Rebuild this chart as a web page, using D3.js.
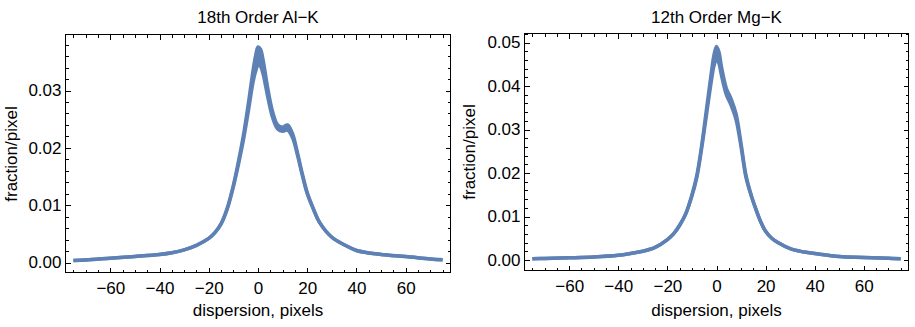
<!DOCTYPE html>
<meta charset="utf-8">
<script src="https://d3js.org/d3.v7.min.js"></script>
<style>
  body { margin: 0; background: #fff; }
  text { font-family: "Liberation Sans", Arial, sans-serif; }
</style>
<div id="chart"></div>
<script>

// dispersion positions (pixels) where the curves were read
var dispersion = [-75, -70, -60, -50, -40, -35, -30, -25, -20, -17.5, -15, -12.5, -10, -8, -6, -4, -2, -1, 0,
                  1, 2, 4, 6, 8, 10, 12, 14, 16, 18, 20, 22.5, 25, 30, 35, 40, 50, 60, 70, 75];

// 18th order Al-K, the band is drawn between the two curves
var alUpper = [0.00035, 0.00045, 0.00075, 0.00105, 0.0014, 0.0017, 0.0022, 0.0030, 0.0042, 0.0052, 0.0068, 0.0095, 0.0135, 0.0175, 0.0220, 0.0275, 0.0335, 0.0360, 0.0376,
               0.0372, 0.0355, 0.0303, 0.0262, 0.0240, 0.0236, 0.0240, 0.0225, 0.0192, 0.0155, 0.0122, 0.0094, 0.0070, 0.0044, 0.0031, 0.0021, 0.0014, 0.00105, 0.0006, 0.00047];
var alLower = [0.00035, 0.00045, 0.00075, 0.00105, 0.0014, 0.0017, 0.0022, 0.0030, 0.0042, 0.0052, 0.0067, 0.0093, 0.0132, 0.0170, 0.0212, 0.0262, 0.0315, 0.0333, 0.0344,
               0.0342, 0.0330, 0.0288, 0.0252, 0.0233, 0.0229, 0.0231, 0.0218, 0.0188, 0.0152, 0.0120, 0.0093, 0.0070, 0.0044, 0.0031, 0.0021, 0.0014, 0.00105, 0.0006, 0.00047];

// 12th order Mg-K
var mgUpper = [0.0003, 0.00035, 0.0005, 0.0007, 0.0011, 0.0015, 0.0020, 0.0029, 0.0047, 0.0060, 0.0080, 0.0107, 0.0150, 0.0195, 0.0265, 0.0350, 0.0435, 0.0472, 0.0491,
               0.0478, 0.0445, 0.0395, 0.0370, 0.0335, 0.0268, 0.0195, 0.0152, 0.0118, 0.0088, 0.0066, 0.0050, 0.0040, 0.0026, 0.0019, 0.0015, 0.0008, 0.0006, 0.0004, 0.0003];
var mgLower = [0.0003, 0.00035, 0.0005, 0.0007, 0.0011, 0.0015, 0.0020, 0.0029, 0.0047, 0.0060, 0.0080, 0.0106, 0.0147, 0.0190, 0.0258, 0.0337, 0.0415, 0.0447, 0.0462,
               0.0452, 0.0425, 0.0380, 0.0355, 0.0322, 0.0260, 0.0190, 0.0150, 0.0117, 0.0088, 0.0066, 0.0050, 0.0040, 0.0026, 0.0019, 0.0015, 0.0008, 0.0006, 0.0004, 0.0003];

var titles = ["18th Order Al\u2212K", "12th Order Mg\u2212K"];
var xLabel = "dispersion, pixels";
var yLabel = "fraction/pixel";

var xMajor = [-60, -40, -20, 0, 20, 40, 60];
var xMinor = d3.range(-75, 80, 5);
var alYMajor = [0, 0.01, 0.02, 0.03];
var mgYMajor = [0, 0.01, 0.02, 0.03, 0.04, 0.05];
var yMinor = d3.range(0, 0.0521, 0.002);

var color = "#5e81b5";
var fontSize = "17px";

var svg = d3.select("#chart")
  .append("svg")
    .attr("width", 915)
    .attr("height", 327);

function drawPanel(p) {
  var x = d3.scaleLinear()
    .domain([-78.2, 78.2])
    .range([p.left, p.right]);
  var y = d3.scaleLinear()
    .domain(p.yDomain)
    .range([p.bottom, p.top]);

  var g = svg.append("g");

  var data = dispersion.map(function(d, i) { return {x: d, lo: p.lower[i], hi: p.upper[i]}; });

  // band between the curves
  g.append("path")
    .datum(data)
    .attr("fill", color)
    .attr("d", d3.area()
      .curve(d3.curveCatmullRom.alpha(0.5))
      .x(function(d) { return x(d.x); })
      .y0(function(d) { return y(d.lo); })
      .y1(function(d) { return y(d.hi); }));

  ["hi", "lo"].forEach(function(k) {
    g.append("path")
      .datum(data)
      .attr("fill", "none")
      .attr("stroke", color)
      .attr("stroke-width", 3.5)
      .attr("stroke-linejoin", "round")
      .attr("d", d3.line()
        .curve(d3.curveCatmullRom.alpha(0.5))
        .x(function(d) { return x(d.x); })
        .y(function(d) { return y(d[k]); }));
  });

  // minor ticks on all four sides
  var minorY = yMinor.filter(function(v) { return v <= p.yDomain[1]; });
  var axes = [
    [d3.axisBottom(x), p.bottom, 0, xMinor],
    [d3.axisTop(x), p.top, 0, xMinor],
    [d3.axisLeft(y), 0, p.left, minorY],
    [d3.axisRight(y), 0, p.right, minorY]
  ];
  axes.forEach(function(a) {
    g.append("g")
      .attr("transform", "translate(" + a[2] + "," + a[1] + ")")
      .call(a[0].tickValues(a[3]).tickSize(-3).tickFormat(""))
      .call(function(s) { s.select(".domain").remove(); });
  });

  // major ticks, labels only at bottom and left
  g.append("g")
    .attr("transform", "translate(0," + p.bottom + ")")
    .call(d3.axisBottom(x).tickValues(xMajor).tickSize(-5).tickPadding(9))
    .call(function(s) { s.select(".domain").remove(); });
  g.append("g")
    .attr("transform", "translate(0," + p.top + ")")
    .call(d3.axisTop(x).tickValues(xMajor).tickSize(-5).tickFormat(""))
    .call(function(s) { s.select(".domain").remove(); });
  g.append("g")
    .attr("transform", "translate(" + p.left + ",0)")
    .call(d3.axisLeft(y).tickValues(p.yMajor).tickSize(-5).tickPadding(4).tickFormat(d3.format(".2f")))
    .call(function(s) { s.select(".domain").remove(); });
  g.append("g")
    .attr("transform", "translate(" + p.right + ",0)")
    .call(d3.axisRight(y).tickValues(p.yMajor).tickSize(-5).tickFormat(""))
    .call(function(s) { s.select(".domain").remove(); });

  g.selectAll(".tick line").attr("stroke", "#000").attr("shape-rendering", "crispEdges");
  g.selectAll(".tick text")
    .attr("fill", "#000")
    .style("font-size", fontSize)
    .style("font-family", "'Liberation Sans', Arial, sans-serif");

  // frame
  g.append("rect")
    .attr("x", p.left)
    .attr("y", p.top)
    .attr("width", p.right - p.left)
    .attr("height", p.bottom - p.top)
    .attr("fill", "none")
    .attr("stroke", "#000")
    .attr("shape-rendering", "crispEdges");

  g.append("text")
    .attr("x", (p.left + p.right) / 2)
    .attr("y", 23)
    .attr("text-anchor", "middle")
    .attr("font-size", fontSize)
    .text(p.title);

  g.append("text")
    .attr("x", (p.left + p.right) / 2)
    .attr("y", 316)
    .attr("text-anchor", "middle")
    .attr("font-size", fontSize)
    .text(xLabel);

  g.append("text")
    .attr("transform", "translate(" + p.yLabelX + "," + p.yLabelY + ") rotate(-90)")
    .attr("text-anchor", "middle")
    .attr("font-size", fontSize)
    .text(yLabel);
}

drawPanel({
  left: 65.5, right: 450.5, top: 34.5, bottom: 272.5,
  yDomain: [-0.00174, 0.03977],
  yMajor: alYMajor,
  upper: alUpper, lower: alLower,
  title: titles[0],
  yLabelX: 17, yLabelY: 154
});

drawPanel({
  left: 524.5, right: 908.5, top: 33.5, bottom: 270.5,
  yDomain: [-0.00241, 0.05207],
  yMajor: mgYMajor,
  upper: mgUpper, lower: mgLower,
  title: titles[1],
  yLabelX: 475, yLabelY: 152
});

</script>
